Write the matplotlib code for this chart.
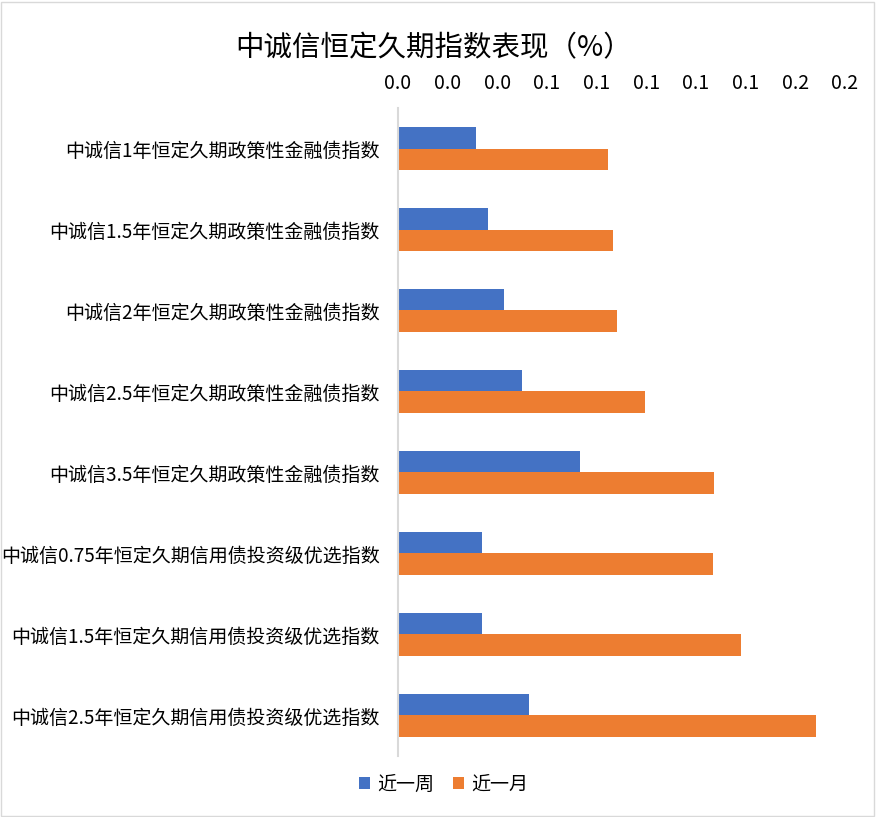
import numpy as np
import matplotlib.pyplot as plt
import matplotlib.patches as patches
from matplotlib.ticker import FuncFormatter

plt.rcParams['font.family'] = ['Noto Sans CJK SC', 'DejaVu Sans']

# index names, top to bottom
categories = [
    '中诚信1年恒定久期政策性金融债指数',
    '中诚信1.5年恒定久期政策性金融债指数',
    '中诚信2年恒定久期政策性金融债指数',
    '中诚信2.5年恒定久期政策性金融债指数',
    '中诚信3.5年恒定久期政策性金融债指数',
    '中诚信0.75年恒定久期信用债投资级优选指数',
    '中诚信1.5年恒定久期信用债投资级优选指数',
    '中诚信2.5年恒定久期信用债投资级优选指数',
]
week = [0.0314, 0.0362, 0.0427, 0.0499, 0.0733, 0.0338, 0.0338, 0.0528]
month = [0.0846, 0.0866, 0.0882, 0.0995, 0.1273, 0.1269, 0.1381, 0.1683]
series_names = ['近一周', '近一月']
x_ticks = np.arange(0, 0.181, 0.02)

blue = '#4472C4'
orange = '#ED7D31'

fig = plt.figure(figsize=(8.76, 8.17), dpi=100)
ax = fig.add_axes([0.4543, 0.0747, 0.5103, 0.7931])

y = np.arange(len(categories))
h = 0.26
ax.barh(y - h / 2, week, height=h, color=blue, label=series_names[0])
ax.barh(y + h / 2, month, height=h, color=orange, label=series_names[1])

ax.set_ylim(len(categories) - 0.5, -0.5)
ax.set_xlim(0, 0.18)
ax.set_xticks(x_ticks)
ax.xaxis.set_major_formatter(FuncFormatter(lambda v, p: f'{v:.1f}'))
ax.xaxis.tick_top()
ax.tick_params(axis='x', length=0, pad=10, labelsize=14, labelcolor='#000000')
ax.set_yticks(y)
ax.set_yticklabels(categories)
ax.tick_params(axis='y', length=0, pad=13, labelsize=13.7, labelcolor='#000000')

for s in ['top', 'right', 'bottom']:
    ax.spines[s].set_visible(False)
ax.spines['left'].set_color('#D9D9D9')
ax.spines['left'].set_linewidth(1.5)

fig.text(0.495, 0.941, '中诚信恒定久期指数表现（%）', ha='center', va='center', fontsize=20.5)

fig.legend(loc='center', bbox_to_anchor=(0.506, 0.040), ncol=2, frameon=False,
           fontsize=13.7, handlelength=0.6, handleheight=0.6, handletextpad=0.35,
           columnspacing=1.0)

# chart border
fig.patches.append(patches.Rectangle((0.001, 0.001), 0.997, 0.997, transform=fig.transFigure,
                                     fill=False, edgecolor='#D9D9D9', linewidth=1))

fig.savefig('out.png', dpi=100)
